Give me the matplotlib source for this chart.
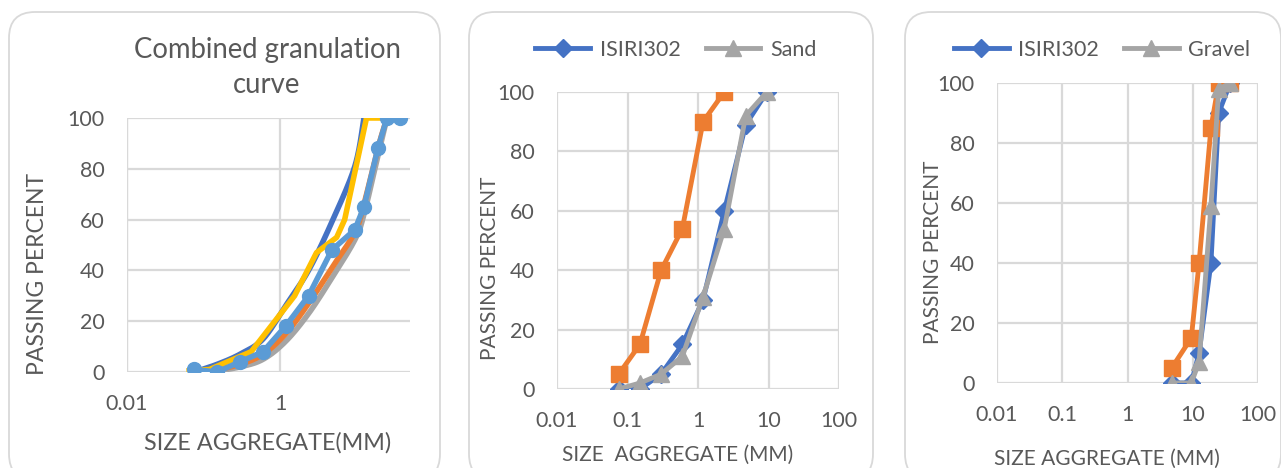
import matplotlib
matplotlib.use("Agg")
import matplotlib.pyplot as plt
import numpy as np
from matplotlib.patches import FancyBboxPatch
from matplotlib.transforms import Affine2D
from matplotlib.lines import Line2D

W, H, DPI = 1281, 468, 100

BLUE = "#4472C4"
ORANGE = "#ED7D31"
GRAY = "#A5A5A5"
YELLOW = "#FFC000"
LIGHT_BLUE = "#5B9BD5"
TEXT = "#595959"
GRID = "#D9D9D9"

# combined curve (sieve sizes in mm)
SIEVE_MM = [0.075, 0.15, 0.3, 0.6, 1.18, 2.36, 4.75, 9.5, 12.5, 19, 25, 37.5]
MIX = [1, 0, 4, 8, 18, 30, 48, 56, 65, 88, 100, 100]
UPPER = [0, 3, 7, 13, 26, 40, 59, 81, 100]
MIDDLE = [0, 1, 3, 7, 15, 27, 41, 55, 66, 88, 100]
LOWER = [0, 0.5, 2, 5, 12, 23, 37, 52, 62, 85, 100]
TARGET_X = [0.065, 0.12, 0.42, 1.55, 3.0, 5.5, 7.0, 13.5, 21.5]
TARGET_Y = [0.5, 1, 8, 30, 47, 53, 60, 100, 100]

# sand
SAND_MM = [0.075, 0.15, 0.3, 0.6, 1.18, 2.36, 4.75, 9.5]
SAND_ISIRI = [0, 0, 5, 15, 30, 60, 89, 100]
SAND = [0, 2, 5, 11, 31, 54, 92, 100]
SAND_FINE = [5, 15, 40, 54, 90, 100]

# gravel
GRAVEL_MM = [4.75, 9.5, 12.5, 19, 25, 37.5]
GRAVEL_ISIRI = [0, 0, 10, 40, 90, 100]
GRAVEL = [0, 0, 7, 59, 98, 100]
GRAVEL_ALT = [5, 15, 40, 85, 100, 100]

LOG_TICKS = [0.01, 0.1, 1, 10, 100]
LOG_LABELS = ["0.01", "0.1", "1", "10", "100"]

plt.rcParams["font.family"] = ["Lato", "DejaVu Sans"]

fig = plt.figure(figsize=(W / DPI, H / DPI), dpi=DPI)
px = Affine2D().scale(1 / DPI) + fig.dpi_scale_trans


def fx(x):
    return x / W


def fy(y):
    return 1 - y / H


def panel_box(x0, x1, y0, y1):
    box = FancyBboxPatch((x0, H - y1), x1 - x0, y1 - y0,
                         boxstyle="round,pad=0,rounding_size=26",
                         transform=px, facecolor="white", edgecolor=GRID,
                         linewidth=1.3, zorder=0)
    fig.add_artist(box)


def make_axes(left, right, top, bottom):
    ax = fig.add_axes([fx(left), fy(bottom), fx(right - left), (bottom - top) / H])
    ax.set_facecolor("none")
    for s in ax.spines.values():
        s.set_visible(False)
    ax.set_xscale("log")
    ax.set_ylim(0, 100)
    ax.set_yticks(range(0, 101, 20))
    ax.grid(True, color=GRID, linewidth=1.6, zorder=0)
    ax.set_axisbelow(True)
    ax.tick_params(length=0, pad=16, labelsize=15.5, labelcolor=TEXT)
    ax.minorticks_off()
    return ax


def smooth(x, y, n=24):
    # Catmull-Rom through the points, in log-x space
    lx = np.log10(np.asarray(x, float))
    yy = np.asarray(y, float)
    p = np.column_stack([lx, yy])
    p = np.vstack([p[0], p, p[-1]])
    out = []
    t = np.linspace(0, 1, n)[:, None]
    for i in range(1, len(p) - 2):
        p0, p1, p2, p3 = p[i - 1], p[i], p[i + 1], p[i + 2]
        seg = 0.5 * ((2 * p1) + (-p0 + p2) * t + (2 * p0 - 5 * p1 + 4 * p2 - p3) * t ** 2
                     + (-p0 + 3 * p1 - 3 * p2 + p3) * t ** 3)
        out.append(seg)
    out = np.vstack(out)
    return 10 ** out[:, 0], out[:, 1]


def legend(labels, cx):
    h_blue = Line2D([], [], color=BLUE, lw=3.5, marker="D", markersize=9)
    h_gray = Line2D([], [], color=GRAY, lw=3.5, marker="^", markersize=12)
    fig.legend([h_blue, h_gray], labels, ncol=2, loc="center",
               bbox_to_anchor=(fx(cx), fy(50)), frameon=False, fontsize=15.5,
               handlelength=2.55, columnspacing=1.15, handletextpad=0.45,
               labelcolor=TEXT)


# panel frames
panel_box(9, 440, 12, 480)
panel_box(469, 873, 12, 480)
panel_box(905, 1281, 12, 480)

# combined granulation curve
ax1 = make_axes(127, 410, 118, 372)
ax1.set_xlim(0.01, 50)
ax1.set_xticks([0.01, 1])
ax1.set_xticklabels(["0.01", "1"])
ax1.axvline(0.01, color=GRID, linewidth=1.6, zorder=0)
ax1.plot(*smooth(SIEVE_MM[:len(UPPER)], UPPER), color=BLUE, lw=4,
         solid_capstyle="round", zorder=2)
ax1.plot(*smooth(SIEVE_MM[:len(LOWER)], LOWER), color=GRAY, lw=4,
         solid_capstyle="round", zorder=2.5)
ax1.plot(*smooth(SIEVE_MM[:len(MIDDLE)], MIDDLE), color=ORANGE, lw=4,
         solid_capstyle="round", zorder=3)
ax1.plot(TARGET_X, TARGET_Y, color=YELLOW, lw=4, zorder=4)
ax1.plot(SIEVE_MM, MIX, color=LIGHT_BLUE, lw=4, marker="o", markersize=10, zorder=5)

fig.text(fx(267), fy(50), "Combined granulation", ha="center", va="center",
         fontsize=19.8, color=TEXT)
fig.text(fx(267), fy(85), "curve", ha="center", va="center", fontsize=19.8, color=TEXT)
fig.text(fx(38), fy(274), "PASSING PERCENT", rotation=90, ha="center", va="center",
         fontsize=16.5, color=TEXT)
fig.text(fx(268), fy(443), "SIZE AGGREGATE(MM)", ha="center", va="center",
         fontsize=16.8, color=TEXT)

# sand
ax2 = make_axes(557, 839, 92, 389)
ax2.set_xlim(0.01, 100)
ax2.set_xticks(LOG_TICKS)
ax2.set_xticklabels(LOG_LABELS)
ax2.plot(SAND_MM, SAND_ISIRI, color=BLUE, lw=3.5, marker="D", markersize=9, zorder=3)
ax2.plot(SAND_MM[:len(SAND_FINE)], SAND_FINE, color=ORANGE, lw=3.5, marker="s",
         markersize=12, zorder=3)
ax2.plot(SAND_MM, SAND, color=GRAY, lw=3.5, marker="^", markersize=12, zorder=4)
legend(["ISIRI302", "Sand"], 676)
fig.text(fx(490), fy(268), "PASSING PERCENT", rotation=90, ha="center", va="center",
         fontsize=15, color=TEXT)
fig.text(fx(678), fy(455), "SIZE  AGGREGATE (MM)", ha="center", va="center",
         fontsize=15, color=TEXT)

# gravel
ax3 = make_axes(997, 1258, 83, 383)
ax3.set_xlim(0.01, 100)
ax3.set_xticks(LOG_TICKS)
ax3.set_xticklabels(LOG_LABELS)
ax3.plot(GRAVEL_MM, GRAVEL_ISIRI, color=BLUE, lw=3.5, marker="D", markersize=9, zorder=3)
ax3.plot(GRAVEL_MM, GRAVEL_ALT, color=ORANGE, lw=3.5, marker="s", markersize=12, zorder=3)
ax3.plot(GRAVEL_MM, GRAVEL, color=GRAY, lw=3.5, marker="^", markersize=12, zorder=4)
legend(["ISIRI302", "Gravel"], 1102)
fig.text(fx(933), fy(252), "PASSING PERCENT", rotation=90, ha="center", va="center",
         fontsize=15, color=TEXT)
fig.text(fx(1107), fy(459), "SIZE AGGREGATE (MM)", ha="center", va="center",
         fontsize=15, color=TEXT)

fig.savefig("out.png", dpi=DPI)
